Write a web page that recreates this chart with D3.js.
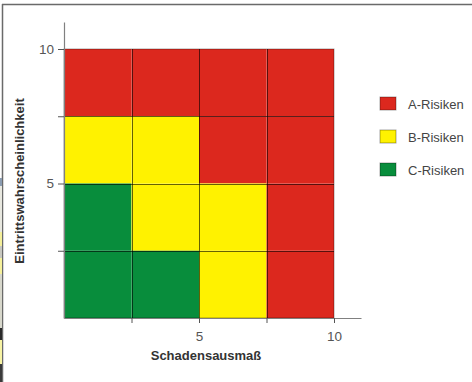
<!DOCTYPE html>
<html>
<head>
<meta charset="utf-8">
<script src="https://cdn.jsdelivr.net/npm/d3@7"></script>
<style>
  html, body { margin: 0; padding: 0; background: #fff; }
  svg { display: block; }
</style>
</head>
<body>
<svg id="chart" width="472" height="382"></svg>
<script>
// Risk classes and their colours
const classes = ["A", "B", "C"];
const classLabels = ["A-Risiken", "B-Risiken", "C-Risiken"];
const classColors = ["#DC281E", "#FFF200", "#088D3C"];

// Cell boundaries along both axes (Schadensausmaß / Eintrittswahrscheinlichkeit)
const bands = [0, 2.5, 5, 7.5, 10];

// Risk class per cell, rows listed from the highest probability band down
const matrixRows = [
  ["A", "A", "A", "A"],
  ["B", "B", "A", "A"],
  ["C", "B", "B", "A"],
  ["C", "C", "B", "A"]
];

// Axis ticks and the ones that carry a label
const tickValues = [2.5, 5, 7.5, 10];
const labelledTicks = [5, 10];
const axisMax = 11;

const xTitle = "Schadensausmaß";
const yTitle = "Eintrittswahrscheinlichkeit";

const FONT = "Liberation Sans, Arial, sans-serif";
const svg = d3.select("#chart");

// Frame lines of the panel
svg.append("line").attr("x1", 2).attr("x2", 472).attr("y1", 4.5).attr("y2", 4.5)
  .attr("stroke", "#6a6a6a").attr("stroke-width", 1.5);
svg.append("line").attr("x1", 2.5).attr("x2", 2.5).attr("y1", 4).attr("y2", 382)
  .attr("stroke", "#6a6a6a").attr("stroke-width", 1.5);

// Edge strip left of the frame
const strip = [
  [178, 186, "#8a9bb0"], [186, 232, "#e8e8e0"], [232, 246, "#f4ef9a"],
  [246, 258, "#c8c8c0"], [258, 274, "#f6f19c"], [274, 328, "#d8d8cc"],
  [328, 340, "#2a2a2a"], [340, 364, "#f7f3a4"], [364, 382, "#3a3a3a"]
];
svg.selectAll("rect.strip").data(strip).join("rect")
  .attr("class", "strip")
  .attr("x", 0).attr("width", 2)
  .attr("y", d => d[0]).attr("height", d => d[1] - d[0])
  .attr("fill", d => d[2]);

// Scales: value 0..10 fills the matrix, axes run on to 11
const x0 = 64, y0 = 318, unit = 27;
const x = d3.scaleLinear().domain([0, axisMax]).range([x0, x0 + axisMax * unit]);
const y = d3.scaleLinear().domain([0, axisMax]).range([y0, y0 - axisMax * 26.9]);

const color = d3.scaleOrdinal().domain(classes).range(classColors);

// Matrix cells
const cells = [];
matrixRows.forEach((row, ri) => {
  const yi = bands.length - 2 - ri;
  row.forEach((cls, xi) => {
    cells.push({ x1: bands[xi], x2: bands[xi + 1], y1: bands[yi], y2: bands[yi + 1], cls });
  });
});

svg.append("g").selectAll("rect").data(cells).join("rect")
  .attr("x", d => x(d.x1))
  .attr("y", d => y(d.y2))
  .attr("width", d => x(d.x2) - x(d.x1))
  .attr("height", d => y(d.y1) - y(d.y2))
  .attr("fill", d => color(d.cls));

// Cell dividers
const inner = bands.slice(1, -1);
const grid = svg.append("g").attr("stroke", "#000").attr("stroke-opacity", 0.6).attr("stroke-width", 1);
grid.selectAll("line.v").data(inner).join("line").attr("class", "v")
  .attr("x1", d => Math.round(x(d)) + 0.5).attr("x2", d => Math.round(x(d)) + 0.5)
  .attr("y1", y(10)).attr("y2", y(0));
grid.selectAll("line.h").data(inner).join("line").attr("class", "h")
  .attr("x1", x(0)).attr("x2", x(10))
  .attr("y1", d => Math.round(y(d)) + 0.5).attr("y2", d => Math.round(y(d)) + 0.5);
// Outer edge of the matrix
svg.append("rect")
  .attr("x", x(0)).attr("y", y(10))
  .attr("width", x(10) - x(0)).attr("height", y(0) - y(10))
  .attr("fill", "none").attr("stroke", "#000").attr("stroke-opacity", 0.35);

// Axes
const fmt = d => labelledTicks.includes(d) ? String(d) : "";
const xAxis = d3.axisBottom(x).tickValues(tickValues).tickFormat(fmt).tickSize(5).tickSizeOuter(0).tickPadding(8);
const yAxis = d3.axisLeft(y).tickValues(tickValues).tickFormat(fmt).tickSize(6).tickSizeOuter(0).tickPadding(4);

const gx = svg.append("g").attr("transform", `translate(0,${y0})`).call(xAxis);
const gy = svg.append("g").attr("transform", `translate(${x0},0)`).call(yAxis);

[gx, gy].forEach(g => {
  g.select(".domain").attr("stroke", "#808080").attr("stroke-width", 1.2);
  g.selectAll(".tick line").attr("stroke", "#555").attr("stroke-width", 1);
  g.selectAll(".tick text")
    .attr("font-family", FONT)
    .attr("font-size", 13.5).attr("fill", "#555");
});

// Axis titles
svg.append("text")
  .attr("x", 206).attr("y", 360)
  .attr("text-anchor", "middle")
  .attr("font-family", FONT)
  .attr("font-weight", "bold").attr("font-size", 13).attr("fill", "#333")
  .text(xTitle);

svg.append("text")
  .attr("transform", "translate(24,181) rotate(-90)")
  .attr("text-anchor", "middle")
  .attr("font-family", FONT)
  .attr("font-weight", "bold").attr("font-size", 13).attr("fill", "#333")
  .text(yTitle);

// Legend
const legend = svg.append("g").attr("transform", "translate(380,97)");
const item = legend.selectAll("g").data(classes).join("g")
  .attr("transform", (d, i) => `translate(0,${i * 33})`);
item.append("rect")
  .attr("width", 16).attr("height", 13)
  .attr("fill", d => color(d))
  .attr("stroke", "#000").attr("stroke-opacity", 0.35).attr("stroke-width", 1);
item.append("text")
  .attr("x", 28).attr("y", 11.5)
  .attr("font-family", FONT)
  .attr("font-size", 13).attr("fill", "#444")
  .text((d, i) => classLabels[i]);
</script>
</body>
</html>
